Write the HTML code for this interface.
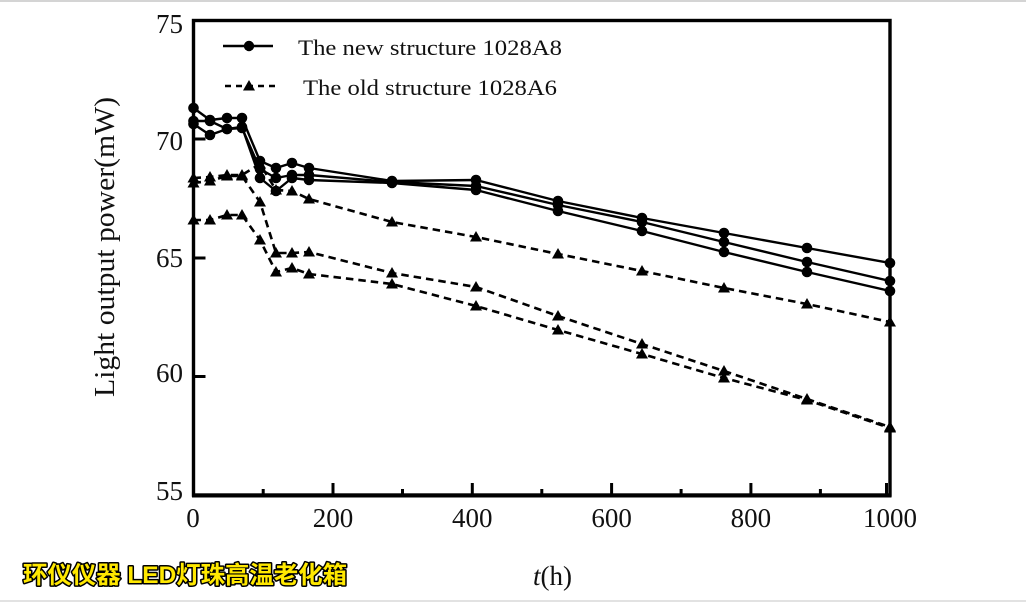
<!DOCTYPE html>
<html>
<head>
<meta charset="utf-8">
<style>
  html, body { margin: 0; padding: 0; background: #ffffff; }
  body { width: 1026px; height: 602px; overflow: hidden; }
  svg { display: block; }
  .serif { font-family: "Liberation Serif", "DejaVu Serif", serif; fill: #111; }
</style>
</head>
<body>
<svg width="1026" height="602" viewBox="0 0 1026 602" xmlns="http://www.w3.org/2000/svg">
  <rect x="0" y="0" width="1026" height="602" fill="#ffffff"/>
  <rect x="0" y="0" width="1026" height="2" fill="#d4d4d4"/>
  <rect x="0" y="600" width="1026" height="2" fill="#e2e2e2"/>

  <!-- frame -->
  <rect x="193.5" y="20.5" width="696.5" height="474.5" fill="none" stroke="#000" stroke-width="3.4"/>
  <line x1="192" y1="495.5" x2="891.5" y2="495.5" stroke="#000" stroke-width="4"/>

  <!-- y ticks -->
  <g stroke="#000" stroke-width="3">
    <line x1="193.5" y1="139" x2="205.5" y2="139"/>
    <line x1="193.5" y1="258" x2="205.5" y2="258"/>
    <line x1="193.5" y1="376.5" x2="205.5" y2="376.5"/>
  </g>
  <!-- x ticks -->
  <g stroke="#000" stroke-width="3">
    <line x1="333" y1="495" x2="333" y2="483"/>
    <line x1="472.3" y1="495" x2="472.3" y2="483"/>
    <line x1="611.6" y1="495" x2="611.6" y2="483"/>
    <line x1="750.9" y1="495" x2="750.9" y2="483"/>
    <line x1="886.5" y1="495" x2="886.5" y2="483"/>
    <line x1="263.2" y1="495" x2="263.2" y2="489"/>
    <line x1="402.5" y1="495" x2="402.5" y2="489"/>
    <line x1="541.8" y1="495" x2="541.8" y2="489"/>
    <line x1="681.1" y1="495" x2="681.1" y2="489"/>
    <line x1="820.4" y1="495" x2="820.4" y2="489"/>
  </g>

  <!-- y tick labels -->
  <g class="serif" font-size="27" text-anchor="end">
    <text x="183" y="33">75</text>
    <text x="183" y="150">70</text>
    <text x="183" y="267">65</text>
    <text x="183" y="382">60</text>
    <text x="183" y="500">55</text>
  </g>
  <!-- x tick labels -->
  <g class="serif" font-size="27" text-anchor="middle">
    <text x="193" y="527">0</text>
    <text x="333" y="527">200</text>
    <text x="472.3" y="527">400</text>
    <text x="611.6" y="527">600</text>
    <text x="750.9" y="527">800</text>
    <text x="890" y="527">1000</text>
  </g>

  <!-- axis titles -->
  <text class="serif" font-size="28" transform="translate(114,397) rotate(-90)" textLength="300" lengthAdjust="spacingAndGlyphs">Light output power(mW)</text>
  <text class="serif" font-size="27" x="533" y="585"><tspan font-style="italic">t</tspan>(h)</text>

  <!-- legend -->
  <line x1="223" y1="46" x2="273" y2="46" stroke="#000" stroke-width="2.4"/>
  <circle cx="249" cy="46" r="5.2" fill="#000"/>
  <text class="serif" font-size="22.5" x="298" y="55" textLength="264" lengthAdjust="spacingAndGlyphs">The new structure 1028A8</text>
  <line x1="225" y1="86" x2="275" y2="86" stroke="#000" stroke-width="2.6" stroke-dasharray="6,5"/>
  <path d="M249,80 L243,90.5 L255,90.5 Z" fill="#000"/>
  <text class="serif" font-size="22.5" x="303" y="95" textLength="254" lengthAdjust="spacingAndGlyphs">The old structure 1028A6</text>

  <!-- dashed series (old structure) -->
  <g fill="none" stroke="#000" stroke-width="2.6" stroke-dasharray="7.5,5">
    <polyline points="193.5,178 210,177 227,175 242,175 260,164 276,190 292,191 309,199 392,222 476,237 558,254 642,271 724,288 807,304 890,322"/>
    <polyline points="193.5,183 210,181 227,176 242,176 260,202 276,253 292,253 309,252 392,273 476,287 558,316 642,344 724,371 807,399 890,427"/>
    <polyline points="193.5,220 210,220 227,215 242,215 260,240 276,272 292,268 309,274 392,284 476,306 558,330 642,354 724,378 807,400 890,428"/>
  </g>
  <g fill="#000">
    <!-- T1 -->
    <path d="M193.5,172l-6,10.5h12z"/><path d="M210,171l-6,10.5h12z"/><path d="M227,169l-6,10.5h12z"/><path d="M242,169l-6,10.5h12z"/>
    <path d="M260,158l-6,10.5h12z"/><path d="M276,184l-6,10.5h12z"/><path d="M292,185l-6,10.5h12z"/><path d="M309,193l-6,10.5h12z"/>
    <path d="M392,216l-6,10.5h12z"/><path d="M476,231l-6,10.5h12z"/><path d="M558,248l-6,10.5h12z"/><path d="M642,265l-6,10.5h12z"/>
    <path d="M724,282l-6,10.5h12z"/><path d="M807,298l-6,10.5h12z"/><path d="M890,316l-6,10.5h12z"/>
    <!-- T2 -->
    <path d="M193.5,177l-6,10.5h12z"/><path d="M210,175l-6,10.5h12z"/><path d="M227,170l-6,10.5h12z"/><path d="M242,170l-6,10.5h12z"/>
    <path d="M260,196l-6,10.5h12z"/><path d="M276,247l-6,10.5h12z"/><path d="M292,247l-6,10.5h12z"/><path d="M309,246l-6,10.5h12z"/>
    <path d="M392,267l-6,10.5h12z"/><path d="M476,281l-6,10.5h12z"/><path d="M558,310l-6,10.5h12z"/><path d="M642,338l-6,10.5h12z"/>
    <path d="M724,365l-6,10.5h12z"/><path d="M807,393l-6,10.5h12z"/><path d="M890,421l-6,10.5h12z"/>
    <!-- T3 -->
    <path d="M193.5,214l-6,10.5h12z"/><path d="M210,214l-6,10.5h12z"/><path d="M227,209l-6,10.5h12z"/><path d="M242,209l-6,10.5h12z"/>
    <path d="M260,234l-6,10.5h12z"/><path d="M276,266l-6,10.5h12z"/><path d="M292,262l-6,10.5h12z"/><path d="M309,268l-6,10.5h12z"/>
    <path d="M392,278l-6,10.5h12z"/><path d="M476,300l-6,10.5h12z"/><path d="M558,324l-6,10.5h12z"/><path d="M642,348l-6,10.5h12z"/>
    <path d="M724,372l-6,10.5h12z"/><path d="M807,394l-6,10.5h12z"/><path d="M890,422l-6,10.5h12z"/>
  </g>

  <!-- solid series (new structure) -->
  <g fill="none" stroke="#000" stroke-width="2.4" stroke-linejoin="round">
    <polyline points="193.5,108 210,120 227,118 242,118 260,161 276,168 292,163 309,168 392,181 476,180 558,201 642,218 724,233 807,248 890,263"/>
    <polyline points="193.5,121 210,121 227,129 242,128 260,169 276,178 292,175 309,175 392,182 476,186 558,205 642,222 724,242 807,262 890,281"/>
    <polyline points="193.5,124 210,135 227,129 242,127 260,178 276,191 292,178 309,180 392,183 476,190 558,211 642,231 724,252 807,272 890,291"/>
  </g>
  <g fill="#000">
    <circle cx="193.5" cy="108" r="5.3"/><circle cx="210" cy="120" r="5.3"/><circle cx="227" cy="118" r="5.3"/><circle cx="242" cy="118" r="5.3"/>
    <circle cx="260" cy="161" r="5.3"/><circle cx="276" cy="168" r="5.3"/><circle cx="292" cy="163" r="5.3"/><circle cx="309" cy="168" r="5.3"/>
    <circle cx="392" cy="181" r="5.3"/><circle cx="476" cy="180" r="5.3"/><circle cx="558" cy="201" r="5.3"/><circle cx="642" cy="218" r="5.3"/>
    <circle cx="724" cy="233" r="5.3"/><circle cx="807" cy="248" r="5.3"/><circle cx="890" cy="263" r="5.3"/>

    <circle cx="193.5" cy="121" r="5.3"/><circle cx="210" cy="121" r="5.3"/><circle cx="227" cy="129" r="5.3"/><circle cx="242" cy="128" r="5.3"/>
    <circle cx="260" cy="169" r="5.3"/><circle cx="276" cy="178" r="5.3"/><circle cx="292" cy="175" r="5.3"/><circle cx="309" cy="175" r="5.3"/>
    <circle cx="392" cy="182" r="5.3"/><circle cx="476" cy="186" r="5.3"/><circle cx="558" cy="205" r="5.3"/><circle cx="642" cy="222" r="5.3"/>
    <circle cx="724" cy="242" r="5.3"/><circle cx="807" cy="262" r="5.3"/><circle cx="890" cy="281" r="5.3"/>

    <circle cx="193.5" cy="124" r="5.3"/><circle cx="210" cy="135" r="5.3"/><circle cx="227" cy="129" r="5.3"/><circle cx="242" cy="127" r="5.3"/>
    <circle cx="260" cy="178" r="5.3"/><circle cx="276" cy="191" r="5.3"/><circle cx="292" cy="178" r="5.3"/><circle cx="309" cy="180" r="5.3"/>
    <circle cx="392" cy="183" r="5.3"/><circle cx="476" cy="190" r="5.3"/><circle cx="558" cy="211" r="5.3"/><circle cx="642" cy="231" r="5.3"/>
    <circle cx="724" cy="252" r="5.3"/><circle cx="807" cy="272" r="5.3"/><circle cx="890" cy="291" r="5.3"/>
  </g>

  <!-- watermark -->
  <text x="23" y="583" font-family="'Liberation Sans', 'Noto Sans CJK SC', sans-serif" font-weight="bold" font-size="24" fill="#ffe800" stroke="#000" stroke-width="3" paint-order="stroke" stroke-linejoin="round" textLength="324" lengthAdjust="spacingAndGlyphs">环仪仪器 LED灯珠高温老化箱</text>
</svg>
</body>
</html>
